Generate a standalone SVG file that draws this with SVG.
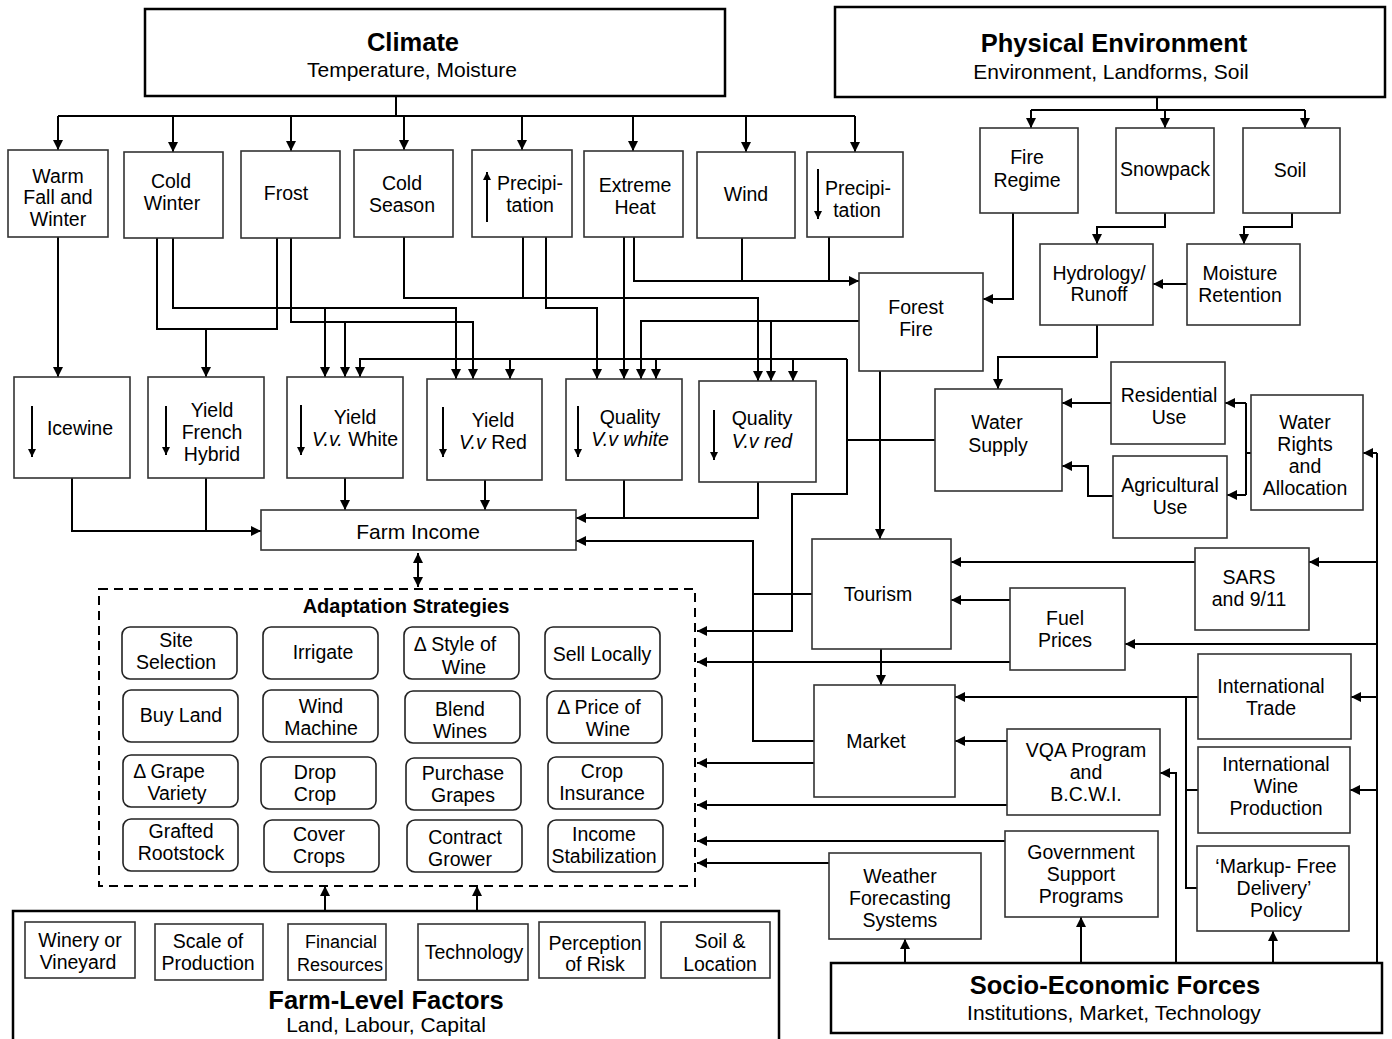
<svg xmlns="http://www.w3.org/2000/svg" width="1392" height="1039" viewBox="0 0 1392 1039">
<defs>
<marker id="a" viewBox="0 0 10 10" refX="10" refY="5" markerWidth="11" markerHeight="10" markerUnits="userSpaceOnUse" orient="auto"><path d="M0,0 L10,5 L0,10 z" fill="#000"/></marker>
<marker id="as" viewBox="0 0 10 10" refX="10" refY="5" markerWidth="11" markerHeight="10" markerUnits="userSpaceOnUse" orient="auto-start-reverse"><path d="M0,0 L10,5 L0,10 z" fill="#000"/></marker>
<marker id="s" viewBox="0 0 10 10" refX="10" refY="5" markerWidth="9" markerHeight="8" markerUnits="userSpaceOnUse" orient="auto"><path d="M0,0 L10,5 L0,10 z" fill="#000"/></marker>
</defs>
<style>
text{font-family:"Liberation Sans",Arial,sans-serif;font-size:19.5px;fill:#000;text-anchor:middle}
.t{font-weight:bold;font-size:25.5px}
.st{font-size:21px}
.h{font-weight:bold;font-size:20px}
.fi{font-size:21px}
.sm{font-size:18px}
.i{font-style:italic}
.big{fill:#fff;stroke:#000;stroke-width:2.5}
.b{fill:#fff;stroke:#333;stroke-width:1.6}
.r{fill:#fff;stroke:#222;stroke-width:1.6}
.d{fill:none;stroke:#000;stroke-width:2;stroke-dasharray:9,6}
.c path{fill:none;stroke:#000;stroke-width:2}
.c path.m{marker-end:url(#a)}
.ia{stroke:#000;stroke-width:2;marker-end:url(#s)}
</style>
<rect width="1392" height="1039" fill="#fff"/>

<g class="c" id="connectors">
<path d="M396,97 V116 M58,116 H855"/>
<path class="m" d="M58,116 V150"/><path class="m" d="M173,116 V152"/><path class="m" d="M291,116 V151"/><path class="m" d="M404,116 V150"/>
<path class="m" d="M522,116 V150"/><path class="m" d="M633,116 V151"/><path class="m" d="M746,116 V152"/><path class="m" d="M855,116 V152"/>
<path d="M1157,97 V110 M1031,110 H1305"/>
<path class="m" d="M1031,110 V128"/><path class="m" d="M1165,110 V128"/><path class="m" d="M1305,110 V128"/>
<path class="m" d="M1165,213 V227 H1097 V244"/>
<path class="m" d="M1292,213 V227 H1244 V244"/>
<path class="m" d="M1187,284 H1153"/>
<path class="m" d="M1013,213 V299 H983"/>
<path class="m" d="M1097,325 V357 H998 V389"/>
<path class="m" d="M1111,403 H1062"/>
<path class="m" d="M1113,496 H1088 V466 H1062"/>
<path d="M1251,453 H1246 M1246,403 V495"/>
<path class="m" d="M1246,403 H1225"/><path class="m" d="M1246,495 H1227"/>
<path d="M1377,963 V453"/>
<path class="m" d="M1377,453 H1363"/><path class="m" d="M1377,562 H1309"/><path class="m" d="M1377,644 H1125"/><path class="m" d="M1377,697 H1351"/><path class="m" d="M1377,790 H1350"/>
<path class="m" d="M58,237 V377"/>
<path d="M157,238 V329 H277 V238"/><path class="m" d="M206,329 V377"/>
<path class="m" d="M173,238 V308 H456 V379"/><path class="m" d="M325,308 V377"/>
<path class="m" d="M291,238 V322 H473 V379"/><path class="m" d="M345,322 V377"/>
<path class="m" d="M404,237 V298 H758 V381"/><path d="M523,237 V298"/>
<path class="m" d="M546,237 V308 H597 V379"/>
<path class="m" d="M624,237 V379"/>
<path class="m" d="M634,237 V281 H859"/><path d="M742,238 V281 M829,237 V281"/>
<path class="m" d="M859,321 H641 V379"/><path class="m" d="M771,321 V381"/>
<path class="m" d="M880,371 V539"/>
<path d="M935,440 H847"/>
<path class="m" d="M847,359 V494 H792 V631 H697"/>
<path class="m" d="M847,359 H360 V377"/>
<path class="m" d="M510,359 V379"/><path class="m" d="M656,359 V379"/><path class="m" d="M793,359 V381"/>
<path class="m" d="M72,478 V531 H261"/><path d="M206,478 V531"/>
<path class="m" d="M345,478 V510"/>
<path class="m" d="M485,480 V510"/>
<path class="m" d="M624,480 V518 H576"/><path d="M758,482 V518 H624"/>
<path d="M812,594 H753"/>
<path class="m" d="M814,741 H753 V541 H576"/>
<path d="M418,553 V587" style="marker-start:url(#as);marker-end:url(#as)"/>
<path class="m" d="M881,649 V685"/>
<path class="m" d="M1195,562 H951"/>
<path class="m" d="M1010,600 H951"/>
<path class="m" d="M1010,662 H697"/>
<path class="m" d="M814,763 H697"/>
<path class="m" d="M1198,697 H955"/>
<path class="m" d="M1007,741 H955"/>
<path d="M1186,697 V888 H1197 M1186,790 H1198"/>
<path class="m" d="M1176,963 V773 H1160"/>
<path class="m" d="M1007,805 H697"/>
<path class="m" d="M1005,841 H697"/>
<path class="m" d="M829,863 H697"/>
<path class="m" d="M905,963 V939"/>
<path class="m" d="M1081,963 V917"/>
<path class="m" d="M1273,963 V931"/>
<path class="m" d="M325,911 V886"/>
<path class="m" d="M477,911 V886"/>
<path class="m" d="M263,951 H288"/>
<path class="m" d="M386,951 H418"/>
</g>

<g id="climate"><rect class="big" x="145" y="9" width="580" height="87"/><text class="t" x="413" y="51">Climate</text><text class="st" x="412" y="77">Temperature, Moisture</text></g>
<g id="physical"><rect class="big" x="835" y="7" width="550" height="90"/><text class="t" x="1114" y="52">Physical Environment</text><text class="st" x="1111" y="79">Environment, Landforms, Soil</text></g>

<g id="warm"><rect class="b" x="8" y="150" width="100" height="87"/><text x="58" y="183">Warm</text><text x="58" y="204">Fall and</text><text x="58" y="226">Winter</text></g>
<g id="coldwinter"><rect class="b" x="124" y="152" width="99" height="86"/><text x="171" y="188">Cold</text><text x="172" y="210">Winter</text></g>
<g id="frost"><rect class="b" x="241" y="151" width="99" height="87"/><text x="286" y="200">Frost</text></g>
<g id="coldseason"><rect class="b" x="354" y="150" width="99" height="87"/><text x="402" y="190">Cold</text><text x="402" y="212">Season</text></g>
<g id="precipup"><rect class="b" x="472" y="150" width="100" height="87"/><line class="ia" x1="487" y1="222" x2="487" y2="172"/><text x="530" y="190">Precipi-</text><text x="530" y="212">tation</text></g>
<g id="heat"><rect class="b" x="584" y="151" width="99" height="86"/><text x="635" y="192">Extreme</text><text x="635" y="214">Heat</text></g>
<g id="wind"><rect class="b" x="697" y="152" width="98" height="86"/><text x="746" y="201">Wind</text></g>
<g id="precipdown"><rect class="b" x="807" y="152" width="96" height="85"/><line class="ia" x1="818" y1="169" x2="818" y2="219"/><text x="858" y="195">Precipi-</text><text x="857" y="217">tation</text></g>

<g id="fireregime"><rect class="b" x="980" y="128" width="98" height="85"/><text x="1027" y="164">Fire</text><text x="1027" y="187">Regime</text></g>
<g id="snowpack"><rect class="b" x="1116" y="128" width="98" height="85"/><text x="1165" y="176">Snowpack</text></g>
<g id="soil"><rect class="b" x="1243" y="128" width="97" height="85"/><text x="1290" y="177">Soil</text></g>
<g id="hydrology"><rect class="b" x="1040" y="244" width="113" height="81"/><text x="1099" y="280">Hydrology/</text><text x="1099" y="301">Runoff</text></g>
<g id="moisture"><rect class="b" x="1187" y="244" width="113" height="81"/><text x="1240" y="280">Moisture</text><text x="1240" y="302">Retention</text></g>
<g id="forestfire"><rect class="b" x="859" y="273" width="124" height="98"/><text x="916" y="314">Forest</text><text x="916" y="336">Fire</text></g>

<g id="icewine"><rect class="b" x="14" y="377" width="116" height="101"/><line class="ia" x1="32" y1="406" x2="32" y2="457"/><text x="80" y="435">Icewine</text></g>
<g id="yfh"><rect class="b" x="148" y="377" width="116" height="101"/><line class="ia" x1="166" y1="406" x2="166" y2="455"/><text x="212" y="417">Yield</text><text x="212" y="439">French</text><text x="212" y="461">Hybrid</text></g>
<g id="yvw"><rect class="b" x="287" y="377" width="116" height="101"/><line class="ia" x1="301" y1="405" x2="301" y2="455"/><text x="355" y="424">Yield</text><text x="355" y="446"><tspan class="i">V.v.</tspan> White</text></g>
<g id="yvr"><rect class="b" x="427" y="379" width="115" height="101"/><line class="ia" x1="443" y1="407" x2="443" y2="457"/><text x="493" y="427">Yield</text><text x="493" y="449"><tspan class="i">V.v</tspan> Red</text></g>
<g id="qvw"><rect class="b" x="566" y="379" width="116" height="101"/><line class="ia" x1="578" y1="406" x2="578" y2="457"/><text x="630" y="424">Quality</text><text class="i" x="630" y="446">V.v white</text></g>
<g id="qvr"><rect class="b" x="699" y="381" width="117" height="101"/><line class="ia" x1="714" y1="410" x2="714" y2="460"/><text x="762" y="425">Quality</text><text class="i" x="762" y="448">V.v red</text></g>

<g id="watersupply"><rect class="b" x="935" y="389" width="127" height="102"/><text x="997" y="429">Water</text><text x="998" y="452">Supply</text></g>
<g id="residential"><rect class="b" x="1111" y="362" width="114" height="82"/><text x="1169" y="402">Residential</text><text x="1169" y="424">Use</text></g>
<g id="agricultural"><rect class="b" x="1113" y="456" width="114" height="82"/><text x="1170" y="492">Agricultural</text><text x="1170" y="514">Use</text></g>
<g id="waterrights"><rect class="b" x="1251" y="395" width="112" height="115"/><text x="1305" y="429">Water</text><text x="1305" y="451">Rights</text><text x="1305" y="473">and</text><text x="1305" y="495">Allocation</text></g>

<g id="farmincome"><rect class="b" x="261" y="510" width="315" height="40"/><text class="fi" x="418" y="539">Farm Income</text></g>

<g id="tourism"><rect class="b" x="812" y="539" width="139" height="110"/><text x="878" y="601">Tourism</text></g>
<g id="sars"><rect class="b" x="1195" y="548" width="114" height="82"/><text x="1249" y="584">SARS</text><text x="1249" y="606">and 9/11</text></g>
<g id="fuel"><rect class="b" x="1010" y="588" width="115" height="82"/><text x="1065" y="625">Fuel</text><text x="1065" y="647">Prices</text></g>
<g id="inttrade"><rect class="b" x="1198" y="654" width="153" height="85"/><text x="1271" y="693">International</text><text x="1271" y="715">Trade</text></g>
<g id="market"><rect class="b" x="814" y="685" width="141" height="112"/><text x="876" y="748">Market</text></g>
<g id="vqa"><rect class="b" x="1007" y="729" width="153" height="86"/><text x="1086" y="757">VQA Program</text><text x="1086" y="779">and</text><text x="1086" y="801">B.C.W.I.</text></g>
<g id="intwine"><rect class="b" x="1198" y="747" width="152" height="86"/><text x="1276" y="771">International</text><text x="1276" y="793">Wine</text><text x="1276" y="815">Production</text></g>
<g id="gov"><rect class="b" x="1005" y="831" width="153" height="86"/><text x="1081" y="859">Government</text><text x="1081" y="881">Support</text><text x="1081" y="903">Programs</text></g>
<g id="markup"><rect class="b" x="1197" y="846" width="152" height="85"/><text x="1276" y="873">‘Markup- Free</text><text x="1274" y="895">Delivery’</text><text x="1276" y="917">Policy</text></g>
<g id="weather"><rect class="b" x="829" y="853" width="152" height="86"/><text x="900" y="883">Weather</text><text x="900" y="905">Forecasting</text><text x="900" y="927">Systems</text></g>
<g id="socio"><rect class="big" x="831" y="963" width="551" height="70"/><text class="t" x="1115" y="994">Socio-Economic Forces</text><text class="st" x="1114" y="1020">Institutions, Market, Technology</text></g>

<g id="adaptation">
<rect class="d" x="99" y="589" width="596" height="297"/>
<text class="h" x="406" y="613">Adaptation Strategies</text>
<rect class="r" x="122" y="627" width="115" height="52" rx="8"/><text x="176" y="647">Site</text><text x="176" y="669">Selection</text>
<rect class="r" x="263" y="627" width="115" height="52" rx="8"/><text x="323" y="659">Irrigate</text>
<rect class="r" x="404" y="627" width="115" height="52" rx="8"/><text x="455" y="651">Δ Style of</text><text x="464" y="674">Wine</text>
<rect class="r" x="545" y="627" width="115" height="52" rx="8"/><text x="602" y="661">Sell Locally</text>
<rect class="r" x="123" y="690" width="115" height="52" rx="8"/><text x="181" y="722">Buy Land</text>
<rect class="r" x="263" y="690" width="115" height="52" rx="8"/><text x="321" y="713">Wind</text><text x="321" y="735">Machine</text>
<rect class="r" x="405" y="691" width="115" height="52" rx="8"/><text x="460" y="716">Blend</text><text x="460" y="738">Wines</text>
<rect class="r" x="547" y="691" width="115" height="52" rx="8"/><text x="599" y="714">Δ Price of</text><text x="608" y="736">Wine</text>
<rect class="r" x="123" y="755" width="115" height="52" rx="8"/><text x="169" y="778">Δ Grape</text><text x="177" y="800">Variety</text>
<rect class="r" x="261" y="757" width="115" height="52" rx="8"/><text x="315" y="779">Drop</text><text x="315" y="801">Crop</text>
<rect class="r" x="406" y="758" width="115" height="52" rx="8"/><text x="463" y="780">Purchase</text><text x="463" y="802">Grapes</text>
<rect class="r" x="548" y="757" width="115" height="52" rx="8"/><text x="602" y="778">Crop</text><text x="602" y="800">Insurance</text>
<rect class="r" x="123" y="819" width="115" height="52" rx="8"/><text x="181" y="838">Grafted</text><text x="181" y="860">Rootstock</text>
<rect class="r" x="264" y="820" width="115" height="52" rx="8"/><text x="319" y="841">Cover</text><text x="319" y="863">Crops</text>
<rect class="r" x="407" y="820" width="115" height="52" rx="8"/><text x="465" y="844">Contract</text><text x="460" y="866">Grower</text>
<rect class="r" x="548" y="820" width="115" height="52" rx="8"/><text x="604" y="841">Income</text><text x="604" y="863">Stabilization</text>
</g>

<g id="farmlevel">
<rect class="big" x="13" y="911" width="766" height="140"/>
<text class="t" x="386" y="1009">Farm-Level Factors</text>
<text class="st" x="386" y="1032">Land, Labour, Capital</text>
</g>
<g id="winery"><rect class="b" x="25" y="922" width="110" height="56"/><text x="80" y="947">Winery or</text><text x="78" y="969">Vineyard</text></g>
<g id="scale"><rect class="b" x="155" y="924" width="108" height="56"/><text x="208" y="948">Scale of</text><text x="208" y="970">Production</text></g>
<g id="financial"><rect class="b" x="288" y="924" width="98" height="56"/><text class="sm" x="341" y="948">Financial</text><text class="sm" x="340" y="971">Resources</text></g>
<g id="technology"><rect class="b" x="418" y="924" width="110" height="56"/><text x="474" y="959">Technology</text></g>
<g id="risk"><rect class="b" x="539" y="922" width="106" height="56"/><text x="595" y="950">Perception</text><text x="595" y="971">of Risk</text></g>
<g id="soilloc"><rect class="b" x="661" y="922" width="109" height="56"/><text x="720" y="948">Soil &amp;</text><text x="720" y="971">Location</text></g>
</svg>
